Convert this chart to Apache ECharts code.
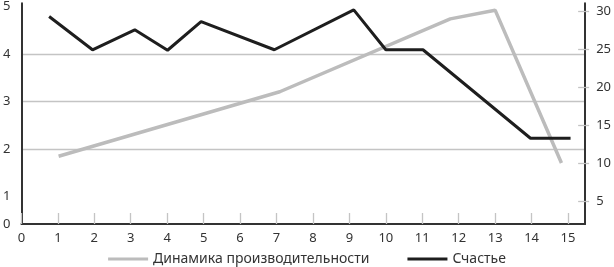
<!DOCTYPE html>
<html>
<head>
<meta charset="utf-8">
<script src="https://cdn.jsdelivr.net/npm/echarts@6/dist/echarts.min.js"></script>
<style>
html,body{margin:0;padding:0;background:#fff;}
#chart{width:614px;height:267px;}
</style>
</head>
<body>
<div id="chart"></div>
<script>
// ---- data ----
var seriesNames = ['Динамика производительности', 'Счастье'];
// productivity (right axis)
var productivityX = [1.02, 7.09, 11.77, 13.0, 14.82];
var productivityY = [10.9, 19.4, 29.0, 30.15, 10.0];
// happiness (left axis)
var happinessX = [0.76, 1.95, 3.11, 4.01, 4.93, 6.94, 9.12, 10.0, 11.02, 13.97, 15.07];
var happinessY = [4.79, 4.09, 4.51, 4.08, 4.68, 4.09, 4.93, 4.09, 4.09, 2.23, 2.23];
// tick labels
var xTickLabels = ['0','1','2','3','4','5','6','7','8','9','10','11','12','13','14','15'];
var leftTickLabels = ['0','1','2','3','4','5'];
var rightTickLabels = ['5','10','15','20','25','30'];

// ---- axis ranges (layout) ----
var X_MIN = 0, X_MAX = 15.47;
var L_MIN = 0.426, L_MAX = 5.068;
var R_MIN = 1.97, R_MAX = 31.06;

function pairs(xs, ys){ return xs.map(function(x,i){ return [x, ys[i]]; }); }

var xVals = xTickLabels.map(Number);
var leftVals = leftTickLabels.map(function(s){ var n = Number(s); return n === 0 ? L_MIN : n; });
var leftGridVals = leftTickLabels.map(Number).filter(function(v){ return v > 0; });
var rightVals = rightTickLabels.map(Number);

var FONT = 'Noto Sans';
var TXT = '#333';
var GRID = '#c4c4c4';
var AXIS = '#333';

var chart = echarts.init(document.getElementById('chart'), null, {renderer:'canvas'});
chart.setOption({
  animation: false,
  backgroundColor: '#fff',
  textStyle: {fontFamily: FONT},
  grid: {left: 19, right: 28, top: 0, bottom: 43, containLabel: false},
  legend: {
    data: seriesNames,
    bottom: -4,
    left: 'center',
    icon: 'rect',
    itemWidth: 40,
    itemHeight: 3,
    itemGap: 38,
    textStyle: {fontFamily: FONT, fontSize: 14, color: TXT}
  },
  xAxis: {
    type: 'value',
    min: X_MIN, max: X_MAX, interval: 1,
    splitLine: {show: false},
    axisLine: {show: true, onZero: false, lineStyle: {color: AXIS, width: 2}},
    axisTick: {show: true, inside: true, length: 11, lineStyle: {color: GRID, width: 1.3}},
    axisLabel: {margin: 8, fontSize: 13, color: TXT, fontFamily: FONT, showMaxLabel: false,
      formatter: function(v){ var i = xVals.indexOf(v); return i < 0 ? '' : xTickLabels[i]; }}
  },
  yAxis: [
    {
      type: 'value', position: 'left',
      min: L_MIN, max: L_MAX,
      axisLine: {show: true, lineStyle: {color: AXIS, width: 2}},
      axisTick: {show: false, customValues: leftGridVals},
      splitLine: {show: true, showMinLine: false, showMaxLine: false, lineStyle: {color: GRID, width: 1.3}},
      axisLabel: {customValues: leftVals, margin: 11, fontSize: 13, color: TXT, fontFamily: FONT,
        formatter: function(v){ return leftTickLabels[leftVals.indexOf(v)]; }}
    },
    {
      type: 'value', position: 'right',
      min: R_MIN, max: R_MAX,
      axisLine: {show: true, lineStyle: {color: AXIS, width: 2}},
      axisTick: {show: true, inside: false, length: 4, customValues: rightVals, lineStyle: {color: GRID, width: 1.3}},
      splitLine: {show: false},
      axisLabel: {customValues: rightVals, margin: 11, fontSize: 13, color: TXT, fontFamily: FONT,
        formatter: function(v){ return rightTickLabels[rightVals.indexOf(v)]; }}
    },
    {
      type: 'value', position: 'right',
      min: R_MIN, max: R_MAX,
      axisLine: {show: false},
      axisTick: {show: true, inside: true, length: 7, customValues: rightVals, lineStyle: {color: GRID, width: 1.3}},
      splitLine: {show: false},
      axisLabel: {show: false}
    }
  ],
  series: [
    {
      name: seriesNames[0], type: 'line', yAxisIndex: 1,
      data: pairs(productivityX, productivityY),
      symbol: 'none', z: 2,
      lineStyle: {color: '#bcbcbc', width: 3.5},
      itemStyle: {color: '#bcbcbc'}
    },
    {
      name: seriesNames[1], type: 'line', yAxisIndex: 0,
      data: pairs(happinessX, happinessY),
      symbol: 'none', z: 3,
      lineStyle: {color: '#1e1e1e', width: 3},
      itemStyle: {color: '#1e1e1e'}
    }
  ]
});
</script>
</body>
</html>
